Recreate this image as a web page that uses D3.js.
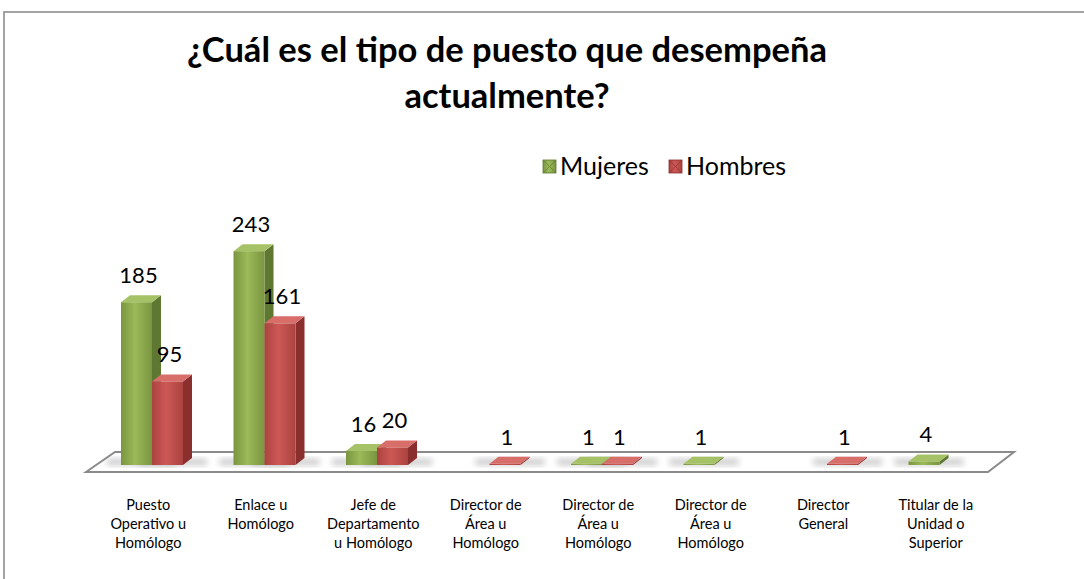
<!DOCTYPE html>
<html>
<head>
<meta charset="utf-8">
<script src="https://cdn.jsdelivr.net/npm/d3@7"></script>
<style>
  body { margin: 0; background: #fff; }
  svg { display: block; font-family: Lato, "Open Sans", sans-serif; }
</style>
</head>
<body>
<svg width="1084" height="579"></svg>
<script>
//	chart data
var categories = [
    "Puesto\nOperativo u\nHomólogo",
    "Enlace u\nHomólogo",
    "Jefe de\nDepartamento\nu Homólogo",
    "Director de\nÁrea u\nHomólogo",
    "Director de\nÁrea u\nHomólogo",
    "Director de\nÁrea u\nHomólogo",
    "Director\nGeneral",
    "Titular de la\nUnidad o\nSuperior"
];
var seriesNames = ["Mujeres", "Hombres"];
var mujeres = [185, 243, 16, null, 1, 1, null, 4];
var hombres = [95, 161, 20, 1, 1, null, 1, null];
var title = ["¿Cuál es el tipo de puesto que desempeña", "actualmente?"];

//	svg selection and sizing
var svg = d3.select("svg"),
        width = +svg.attr("width"),
        height = +svg.attr("height");

//	colours per series: front, top, side
var colors = {
    Mujeres: {light: "#9bba59", dark: "#7a9540", top: "#a6c266", side: "#5e7731"},
    Hombres: {light: "#cd5855", dark: "#ab4340", top: "#d76e6a", side: "#8a2f2d"}
};

var defs = svg.append("defs");
seriesNames.forEach(function (s) {
    var g = defs.append("linearGradient").attr("id", "front-" + s)
            .attr("x1", "0").attr("x2", "1").attr("y1", "0").attr("y2", "0");
    g.append("stop").attr("offset", "0%").attr("stop-color", colors[s].dark);
    g.append("stop").attr("offset", "45%").attr("stop-color", colors[s].light);
    g.append("stop").attr("offset", "100%").attr("stop-color", colors[s].dark);
});
defs.append("filter").attr("id", "blur")
        .attr("x", "-50%").attr("y", "-50%").attr("width", "200%").attr("height", "200%")
        .append("feGaussianBlur").attr("stdDeviation", 3);

//	outer frame
svg.append("rect")
        .attr("x", 4).attr("y", 12)
        .attr("width", width + 20).attr("height", height + 20)
        .attr("fill", "none").attr("stroke", "#8c8c8c").attr("stroke-width", 1.6);

//	title
var titleText = svg.append("text")
        .attr("text-anchor", "middle")
        .attr("font-weight", "bold")
        .attr("font-size", 34.5)
        .attr("fill", "#000");
title.forEach(function (t, i) {
    titleText.append("tspan").attr("x", 507).attr("y", 62 + i * 46).text(t);
});

//	legend
var legend = svg.append("g");
var legendX = [543, 669];
seriesNames.forEach(function (s, i) {
    var lg = legend.append("g").attr("transform", "translate(" + legendX[i] + ",160)");
    lg.append("rect").attr("width", 13).attr("height", 13)
            .attr("fill", "url(#front-" + s + ")")
            .attr("stroke", colors[s].side).attr("stroke-width", 0.8);
    lg.append("path").attr("d", "M0,0L6.5,6.5L13,0M0,13L6.5,6.5L13,13")
            .attr("stroke", colors[s].side).attr("stroke-width", 0.6).attr("fill", "none");
    lg.append("text").attr("x", 17).attr("y", 15)
            .attr("font-size", 25).attr("fill", "#000").text(s);
});

//	scales
var x = d3.scaleBand()
        .domain(d3.range(categories.length))
        .range([92, 992]);
var xs = d3.scaleBand()
        .domain(seriesNames)
        .range([29, 91]);
var base = 465;
var y = d3.scaleLinear().domain([0, 250]).range([base, base - 220]);
var dx = 9, dy = 7;

//	floor
var floorPts = [[86, 472], [115, 452], [1014, 452], [988, 472]];
svg.append("path")
        .attr("d", d3.line()(floorPts) + "Z")
        .attr("fill", "#fff")
        .attr("stroke", "#8a8a8a").attr("stroke-width", 2);

//	bar records
var bars = [];
categories.forEach(function (c, i) {
    [mujeres, hombres].forEach(function (arr, k) {
        if (arr[i] !== null) {
            bars.push({cat: i, series: seriesNames[k], value: arr[i]});
        }
    });
});

//	floor shadows
svg.append("g").selectAll("rect").data(bars).join("rect")
        .attr("x", function (d) { return x(d.cat) + xs(d.series) - 14; })
        .attr("y", base - 6)
        .attr("width", xs.bandwidth() + 38)
        .attr("height", 6)
        .attr("fill", "#9a9a9a")
        .attr("opacity", 0.55)
        .attr("filter", "url(#blur)");

//	3d bars
var barG = svg.append("g").selectAll("g").data(bars).join("g");
function x0(d) { return x(d.cat) + xs(d.series); }
function x1(d) { return x0(d) + xs.bandwidth(); }
function yt(d) { return Math.min(y(d.value), base - 1.2); }

barG.append("path")
        .attr("d", function (d) {
            return "M" + x1(d) + "," + base + "L" + (x1(d) + dx) + "," + (base - dy) +
                    "L" + (x1(d) + dx) + "," + (yt(d) - dy) + "L" + x1(d) + "," + yt(d) + "Z";
        })
        .attr("fill", function (d) { return colors[d.series].side; });
barG.append("rect")
        .attr("x", x0)
        .attr("y", yt)
        .attr("width", xs.bandwidth())
        .attr("height", function (d) { return base - yt(d); })
        .attr("fill", function (d) { return "url(#front-" + d.series + ")"; });
barG.append("path")
        .attr("d", function (d) {
            return "M" + x0(d) + "," + yt(d) + "L" + (x0(d) + dx) + "," + (yt(d) - dy) +
                    "L" + (x1(d) + dx) + "," + (yt(d) - dy) + "L" + x1(d) + "," + yt(d) + "Z";
        })
        .attr("fill", function (d) { return colors[d.series].top; });

//	value labels
svg.append("g").selectAll("text").data(bars).join("text")
        .attr("x", function (d) { return x0(d) + xs.bandwidth() / 2 + 2; })
        .attr("y", function (d) { return yt(d) - 19; })
        .attr("text-anchor", "middle")
        .attr("font-size", 22)
        .attr("fill", "#000")
        .text(function (d) { return d.value; });

//	category labels
var catG = svg.append("g").selectAll("text").data(categories).join("text")
        .attr("text-anchor", "middle")
        .attr("font-size", 14.5)
        .attr("fill", "#000");
catG.each(function (c, i) {
    var t = d3.select(this);
    c.split("\n").forEach(function (line, j) {
        t.append("tspan")
                .attr("x", x(i) + x.bandwidth() / 2)
                .attr("y", 510 + j * 19)
                .text(line);
    });
});
</script>
</body>
</html>
